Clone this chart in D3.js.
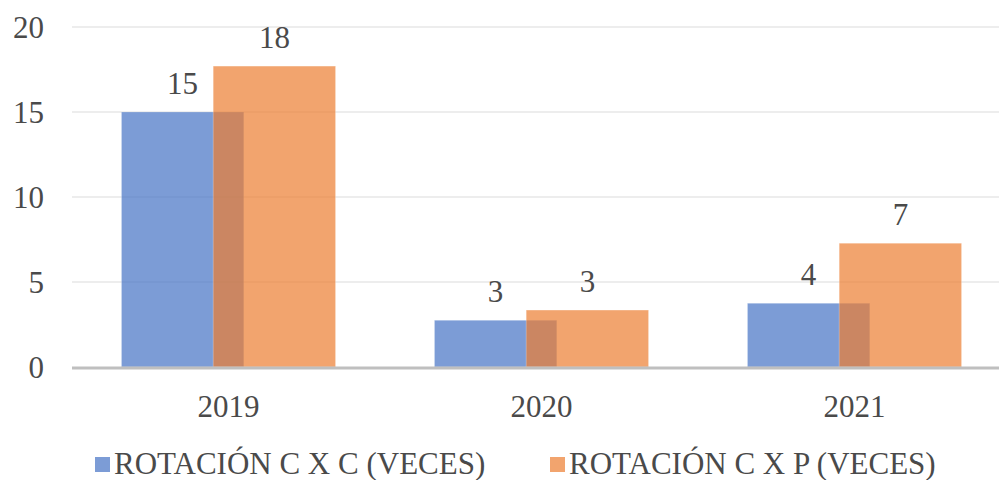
<!DOCTYPE html>
<html>
<head>
<meta charset="utf-8">
<script src="https://cdn.jsdelivr.net/npm/d3@7"></script>
</head>
<body style="margin:0">
<div id="content"></div>
<script>
let width = 999;
let height = 480;
let margin = ({top: 27, right: -12, bottom: 113, left: 72});

// Chart data
let years = ["2019", "2020", "2021"];
let seriesNames = ["ROTACIÓN C X C (VECES)", "ROTACIÓN C X P (VECES)"];
let rotCxC = [15.0, 2.75, 3.75];
let rotCxP = [17.7, 3.35, 7.28];
let yTicks = [0, 5, 10, 15, 20];

let colors = ["#4472C4", "#ED7D31"];
let textColor = "#4a4a4a";

let svg = d3.select("#content")
    .append("svg")
    .attr("width", width)
    .attr("height", height);

let xScale = d3.scaleBand()
    .domain(years)
    .range([margin.left, width - margin.right]);

let yScale = d3.scaleLinear()
    .domain([0, 20])
    .range([height - margin.bottom, margin.top]);

// group = 2 bars with 25% overlap, gap between groups
let groupW = xScale.bandwidth() * 0.684;
let barW = groupW / 1.75;
let step = barW * 0.75;

// gridlines
svg.append("g")
    .selectAll("line")
    .data(yTicks.filter(d => d > 0))
    .enter()
    .append("line")
    .attr("x1", margin.left)
    .attr("x2", width)
    .attr("y1", d => yScale(d))
    .attr("y2", d => yScale(d))
    .attr("stroke", "#ededed")
    .attr("stroke-width", 2);

// collect every label in one list, drawn at the end
let labels = [];

yTicks.forEach(t => labels.push({x: 44, y: yScale(t) + 11, anchor: "end", text: String(t)}));

let series = [rotCxC, rotCxP];

series.forEach(function(values, s) {
    let rows = years.map((y, i) => ({year: y, value: values[i]}));
    let barX = d => xScale(d.year) + (xScale.bandwidth() - groupW) / 2 + s * step;

    svg.append("g")
        .selectAll("rect")
        .data(rows)
        .enter()
        .append("rect")
        .attr("x", barX)
        .attr("y", d => yScale(d.value))
        .attr("width", barW)
        .attr("height", d => yScale(0) - yScale(d.value))
        .attr("fill", colors[s])
        .attr("fill-opacity", 0.7)
        .attr("stroke", "#ffffff")
        .attr("stroke-opacity", 0.25)
        .attr("stroke-width", 1);

    rows.forEach(d => labels.push({
        x: barX(d) + barW / 2,
        y: yScale(d.value) - 18,
        anchor: "middle",
        text: String(Math.round(d.value))
    }));
});

// x axis line
svg.append("line")
    .attr("x1", margin.left)
    .attr("x2", width)
    .attr("y1", yScale(0) + 1)
    .attr("y2", yScale(0) + 1)
    .attr("stroke", "#bfbfbf")
    .attr("stroke-width", 3);

years.forEach(y => labels.push({x: xScale(y) + xScale.bandwidth() / 2, y: 417, anchor: "middle", text: y}));

// legend
let legendX = [95, 550];
seriesNames.forEach(function(name, i) {
    svg.append("rect")
        .attr("x", legendX[i])
        .attr("y", 457)
        .attr("width", 15)
        .attr("height", 15)
        .attr("fill", colors[i])
        .attr("fill-opacity", 0.7);
    labels.push({x: legendX[i] + 19, y: 474, anchor: "start", text: name});
});

svg.selectAll("text.lbl")
    .data(labels)
    .enter()
    .append("text")
    .attr("class", "lbl")
    .attr("x", d => d.x)
    .attr("y", d => d.y)
    .attr("text-anchor", d => d.anchor)
    .style("font-family", d => "Liberation Serif")
    .style("font-size", "31px")
    .style("fill", textColor)
    .text(d => d.text);
</script>
</body>
</html>
